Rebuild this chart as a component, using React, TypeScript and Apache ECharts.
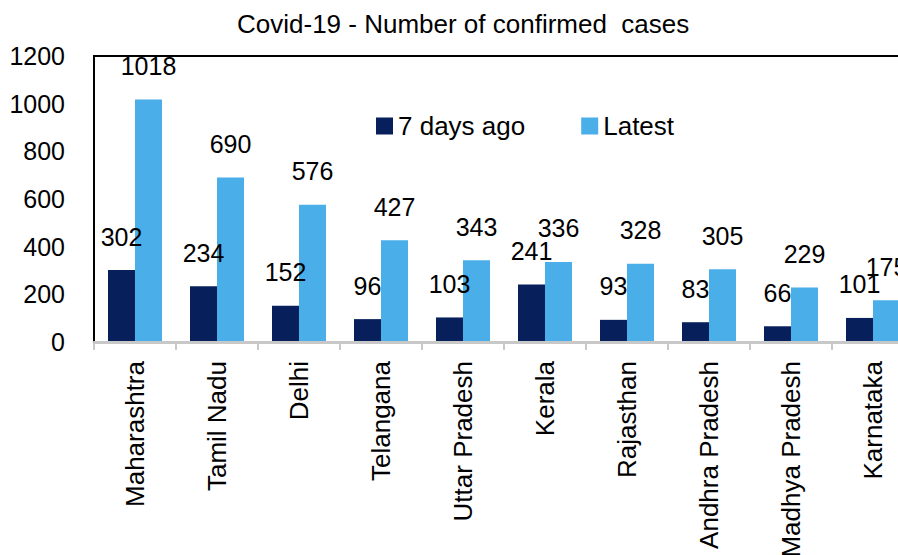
import React, { useEffect, useRef } from "react";
import * as echarts from "echarts";

const states = [
  "Maharashtra",
  "Tamil Nadu",
  "Delhi",
  "Telangana",
  "Uttar Pradesh",
  "Kerala",
  "Rajasthan",
  "Andhra Pradesh",
  "Madhya Pradesh",
  "Karnataka",
];
const sevenDaysAgo = [302, 234, 152, 96, 103, 241, 93, 83, 66, 101];
const latest = [1018, 690, 576, 427, 343, 336, 328, 305, 229, 175];
const yMin = 0;
const yMax = 1200;
const yStep = 200;

const FONT = "'Liberation Sans', Arial, sans-serif";

export default function App() {
  const ref = useRef<HTMLDivElement>(null);
  useEffect(() => {
    document.body.style.margin = "0";
    if (!ref.current) return;
    const chart = echarts.init(ref.current, undefined, { renderer: "svg" });
    const labelStyle = {
      show: true,
      position: "top" as const,
      distance: 21,
      fontFamily: FONT,
      fontSize: 25,
      color: "#000",
    };
    chart.setOption({
      animation: false,
      backgroundColor: "#fff",
      textStyle: { fontFamily: FONT },
      title: {
        text: "Covid-19 - Number of confirmed  cases",
        left: 237,
        top: 11,
        padding: 0,
        textStyle: { fontFamily: FONT, fontSize: 26, fontWeight: "normal", color: "#000" },
      },
      legend: {
        left: 376,
        top: 113,
        padding: 0,
        itemWidth: 17,
        itemHeight: 17,
        itemGap: 56,
        icon: "rect",
        textStyle: { fontFamily: FONT, fontSize: 26, color: "#000" },
        data: ["7 days ago", "Latest"],
      },
      grid: {
        left: 94,
        top: 56,
        right: -16,
        bottom: 213,
        containLabel: false,
        outerBoundsMode: "none",
        show: true,
        borderColor: "#000",
        borderWidth: 2,
        backgroundColor: "transparent",
      },
      xAxis: {
        type: "category",
        data: states,
        axisLine: { show: true, lineStyle: { color: "#c8c8c8", width: 3 } },
        axisTick: { show: true, length: 8, lineStyle: { color: "#c8c8c8", width: 2 } },
        axisLabel: {
          rotate: 90,
          interval: 0,
          margin: 19,
          fontFamily: FONT,
          fontSize: 26,
          color: "#000",
        },
        z: 5,
      },
      yAxis: {
        type: "value",
        min: yMin,
        max: yMax,
        interval: yStep,
        splitLine: { show: false },
        axisLine: { show: true, lineStyle: { color: "#000", width: 2 } },
        axisTick: { show: false },
        axisLabel: {
          margin: 29,
          fontFamily: FONT,
          fontSize: 25,
          color: "#000",
          formatter: (v: number) => String(v),
        },
      },
      series: [
        {
          name: "7 days ago",
          type: "bar",
          data: sevenDaysAgo,
          barWidth: 27,
          barGap: "0%",
          itemStyle: { color: "#07205B" },
          label: labelStyle,
        },
        {
          name: "Latest",
          type: "bar",
          data: latest,
          barWidth: 27,
          barGap: "0%",
          itemStyle: { color: "#4AAEE8" },
          label: labelStyle,
        },
      ],
    });
    return () => chart.dispose();
  }, []);
  return <div ref={ref} style={{ width: 898, height: 555 }} />;
}
